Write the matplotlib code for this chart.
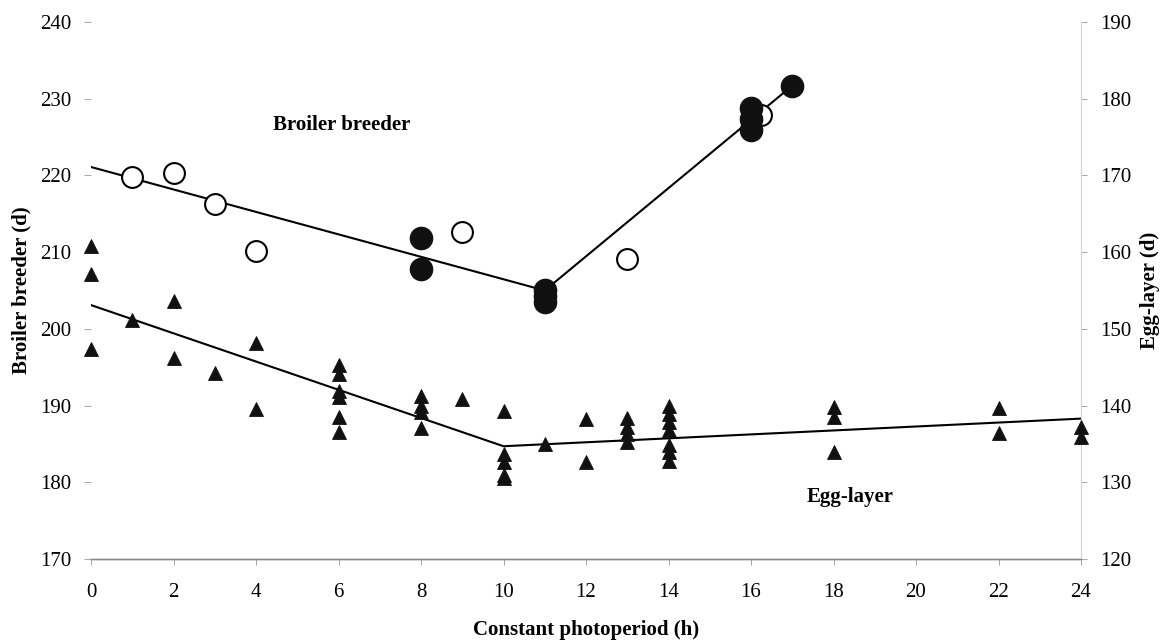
import matplotlib
matplotlib.use("Agg")
import matplotlib.pyplot as plt
import numpy as np

plt.rcParams["font.family"] = ["Liberation Serif", "DejaVu Serif"]

# broiler breeders: age at first egg (d), left axis
broiler_open_x = [1, 2, 3, 4, 9, 13, 16.25]
broiler_open_y = [219.8, 220.3, 216.3, 210.1, 212.6, 209.1, 227.9]
broiler_filled_x = [8, 8, 11, 11, 11, 16, 16, 16, 17]
broiler_filled_y = [211.8, 207.8, 205.1, 204.3, 203.5, 228.8, 227.3, 225.9, 231.7]
broiler_fit_x = [0, 11, 17]
broiler_fit_y = [221.1, 205.0, 231.7]

# egg-layers: age at first egg (d), right axis
layer_x = [0, 0, 0, 1, 2, 2, 3, 4, 4,
           6, 6, 6, 6, 6, 6,
           8, 8, 8, 8, 9,
           10, 10, 10, 10, 10, 11, 12, 12,
           13, 13, 13, 13,
           14, 14, 14, 14, 14, 14, 14,
           18, 18, 18, 22, 22, 24, 24]
layer_y = [160.8, 157.1, 147.4, 151.2, 153.6, 146.2, 144.2, 148.1, 139.5,
           145.3, 144.1, 141.9, 141.1, 138.5, 136.6,
           141.3, 140.0, 139.1, 137.1, 140.8,
           139.3, 133.7, 132.6, 130.9, 130.5, 135.0, 138.2, 132.7,
           138.4, 137.2, 136.3, 135.2,
           140.0, 138.9, 137.8, 136.8, 134.8, 133.9, 132.8,
           139.8, 138.5, 133.9, 139.7, 136.4, 137.2, 135.9]
layer_fit_x = [0, 10, 24]
layer_fit_y = [153.1, 134.7, 138.3]

x_ticks = list(range(0, 25, 2))
left_ticks = list(range(170, 241, 10))
right_ticks = list(range(120, 191, 10))

W, H = 1169, 640
fig = plt.figure(figsize=(W / 100, H / 100), dpi=100)
ax = fig.add_axes([91 / W, 1 - 559 / H, (1081 - 91) / W, (559 - 22) / H])
ax2 = ax.twinx()

fs = 15

ax.plot(broiler_fit_x, broiler_fit_y, color="black", lw=1.5, zorder=2)
ax.plot(broiler_open_x, broiler_open_y, "o", ms=15, mfc="white", mec="black",
        mew=1.5, zorder=3, clip_on=False)
ax.plot(broiler_filled_x, broiler_filled_y, "o", ms=16, mfc="#111111",
        mec="#111111", zorder=4, clip_on=False)

ax2.plot(layer_fit_x, layer_fit_y, color="black", lw=1.5, zorder=2)
ax2.plot(layer_x, layer_y, "^", ms=10, mfc="#111111", mec="#111111",
         mew=0.6, zorder=3, clip_on=False, linestyle="none")

ax.set_xlim(0, 24)
ax.set_ylim(170, 240)
ax2.set_ylim(120, 190)

ax.set_xticks(x_ticks)
ax.set_yticks(left_ticks)
ax2.set_yticks(right_ticks)

ax.tick_params(axis="x", labelsize=fs, length=4, width=0.6, color="#999999", pad=13)
ax.tick_params(axis="y", labelsize=fs, length=5, width=0.6, color="#999999", pad=9)
ax2.tick_params(axis="y", labelsize=fs, length=4, width=0.6, color="#999999", pad=10)

for a in (ax, ax2):
    a.spines["top"].set_visible(False)
    a.spines["left"].set_visible(False)
    a.spines["bottom"].set_color("#8a8a8a")
    a.spines["bottom"].set_linewidth(1.0)
    a.spines["right"].set_color("#d0d0d0")
    a.spines["right"].set_linewidth(0.8)
ax.spines["right"].set_visible(False)

ax.set_xlabel("Constant photoperiod (h)", fontsize=fs, fontweight="bold", labelpad=13)
ax.set_ylabel("Broiler breeder (d)", fontsize=fs, fontweight="bold", labelpad=6)
ax2.set_ylabel("Egg-layer (d)", fontsize=fs, fontweight="bold", labelpad=6)

ax.text(4.41, 226.6, "Broiler breeder", fontsize=fs, fontweight="bold",
        ha="left", va="center")
ax.text(17.36, 178.1, "Egg-layer", fontsize=fs, fontweight="bold",
        ha="left", va="center")

fig.savefig("out.png", dpi=100)
